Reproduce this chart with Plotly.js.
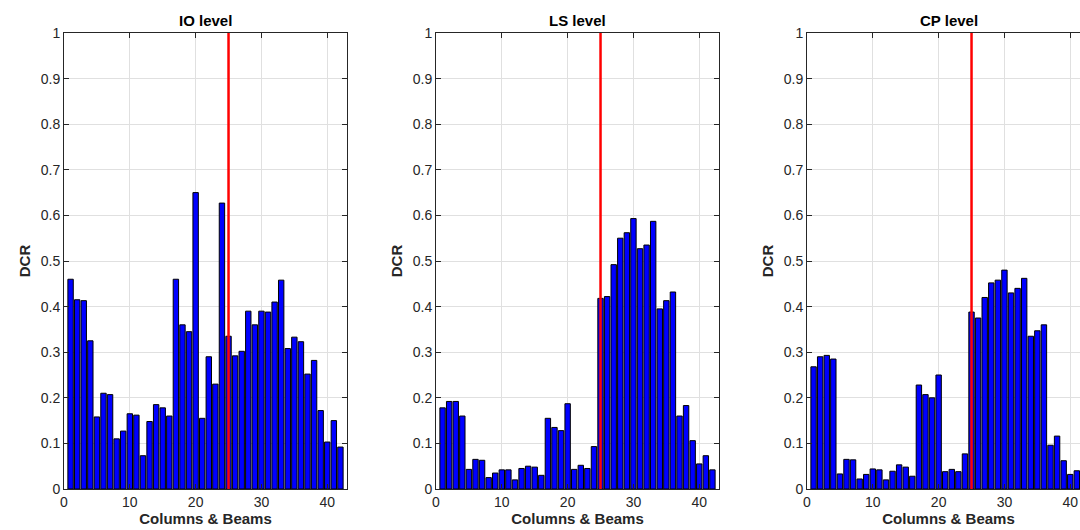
<!DOCTYPE html>
<html><head><meta charset="utf-8">
<script src="https://cdn.plot.ly/plotly-3.0.1.min.js"></script>
<style>html,body{margin:0;padding:0;width:1080px;height:530px;overflow:hidden;background:#fff}</style>
</head><body><div id="plot" style="width:1100px;height:530px"></div>
<script>
const members = Array.from({length:42},(_,i)=>i+1);
const ioDCR = [0.46,0.415,0.413,0.325,0.158,0.21,0.207,0.11,0.127,0.165,0.162,0.073,0.148,0.185,0.178,0.16,0.46,0.36,0.345,0.65,0.155,0.29,0.23,0.627,0.335,0.292,0.302,0.39,0.36,0.39,0.388,0.41,0.458,0.308,0.333,0.323,0.252,0.282,0.172,0.103,0.15,0.092];
const lsDCR = [0.178,0.192,0.192,0.16,0.043,0.065,0.063,0.025,0.035,0.042,0.042,0.02,0.045,0.05,0.048,0.03,0.155,0.135,0.128,0.187,0.043,0.052,0.045,0.093,0.418,0.422,0.492,0.55,0.562,0.593,0.527,0.535,0.587,0.395,0.413,0.432,0.16,0.183,0.106,0.055,0.073,0.042];
const cpDCR = [0.268,0.29,0.293,0.285,0.033,0.065,0.064,0.022,0.032,0.044,0.042,0.02,0.039,0.053,0.048,0.028,0.228,0.207,0.2,0.25,0.038,0.043,0.038,0.077,0.388,0.375,0.42,0.452,0.458,0.48,0.43,0.44,0.462,0.335,0.347,0.36,0.096,0.116,0.062,0.032,0.04,0.04];
const titles = ['IO level','LS level','CP level'];
const limit = 25;
const W = 1100;
const doms = [[64,347],[436,719],[807,1090]];
const series = [ioDCR, lsDCR, cpDCR];
const font = {family:'Arial, Liberation Sans, sans-serif', color:'#262626'};
const traces = [], layout = {
  width:W, height:530, margin:{l:0,r:0,t:33,b:41}, showlegend:false,
  plot_bgcolor:'#fff', paper_bgcolor:'#fff', font:Object.assign({size:14},font),
  shapes:[], annotations:[], bargap:0.2
};
series.forEach((ys,i)=>{
  const n = i===0?'':(i+1);
  traces.push({type:'bar', x:members, y:ys, xaxis:'x'+n, yaxis:'y'+n,
    marker:{color:'#0000ff', line:{color:'#000', width:1}}, width:0.82});
  const ax = {domain:[doms[i][0]/W, doms[i][1]/W], range:[0,43], tickvals:[0,10,20,30,40],
    showgrid:true, gridcolor:'#e0e0e0', linecolor:'#262626', mirror:'ticks', ticks:'inside', ticklen:5,
    tickcolor:'#262626', zeroline:false, anchor:'y'+n,
    title:{text:'<b>Columns & Beams</b>', font:{size:15}, standoff:4}};
  const ay = {domain:[0,1], range:[0,1], dtick:0.1, tickformat:'~g', showgrid:true, gridcolor:'#e0e0e0',
    linecolor:'#262626', mirror:'ticks', ticks:'inside', ticklen:5, tickcolor:'#262626', zeroline:false,
    anchor:'x'+n, title:{text:'<b>DCR</b>', font:{size:15}, standoff:6}};
  layout['xaxis'+n] = ax; layout['yaxis'+n] = ay;
  layout.shapes.push({type:'line', xref:'x'+n, yref:'y'+n, x0:limit, x1:limit, y0:0, y1:1,
    line:{color:'#ff0000', width:2.5}});
  layout.annotations.push({text:'<b>'+titles[i]+'</b>', xref:'x'+n+' domain', yref:'paper',
    x:0.5, y:1, yshift:2, xanchor:'center', yanchor:'bottom', showarrow:false, font:{size:15,color:'#000'}});
});
Plotly.newPlot('plot', traces, layout, {displayModeBar:false});
</script></body></html>
